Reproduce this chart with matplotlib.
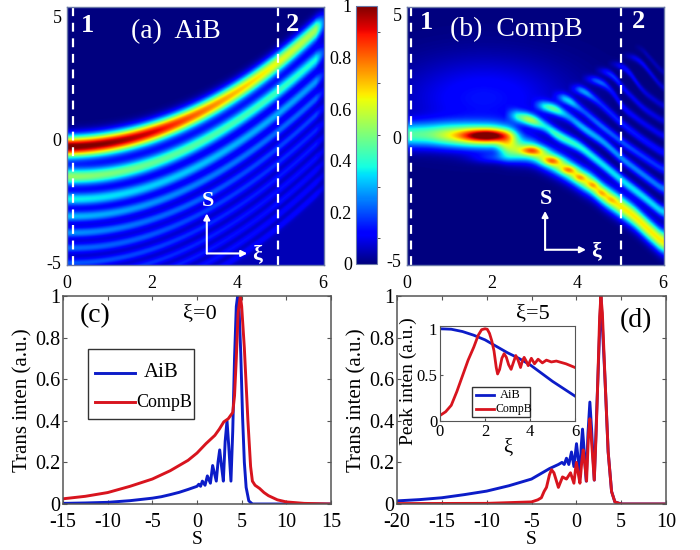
import numpy as np
import matplotlib
matplotlib.use("Agg")
import matplotlib.pyplot as plt
from matplotlib.patches import Rectangle

plt.rcParams['font.family'] = ['Liberation Serif', 'DejaVu Serif']
plt.rcParams['axes.unicode_minus'] = False

# panel (a): ridges
a_xi = [0, 1, 2, 3, 4, 5, 6]
a_s = [
    [-0.27, -0.14, 0.30, 1.05, 1.97, 3.20, 4.76],
    [-1.50, -1.38, -0.94, -0.24, 0.78, 2.05, 3.50],
    [-2.42, -2.30, -1.86, -1.16, -0.16, 1.15, 2.60],
    [-3.13, -3.00, -2.57, -1.87, -0.87, 0.44, 1.90],
    [-3.80, -3.66, -3.24, -2.55, -1.55, -0.25, 1.25],
    [-4.42, -4.28, -3.86, -3.15, -2.15, -0.85, 0.62],
    [-5.03, -4.88, -4.46, -3.75, -2.75, -1.45, 0.05],
    [-5.50, -5.40, -5.00, -4.30, -3.30, -2.00, -0.50],
    [-6.05, -5.90, -5.50, -4.80, -3.80, -2.50, -1.00],
    [-6.60, -6.45, -6.00, -5.30, -4.30, -3.00, -1.50],
    [-7.10, -6.95, -6.50, -5.80, -4.80, -3.50, -2.00],
]
a_amp = [
    [1.00, 0.97, 0.90, 0.78, 0.68, 0.60, 0.50],
    [0.48, 0.45, 0.42, 0.40, 0.38, 0.37, 0.32],
    [0.32, 0.30, 0.28, 0.27, 0.25, 0.24, 0.22],
    [0.26, 0.24, 0.22, 0.20, 0.19, 0.18, 0.17],
    [0.22, 0.20, 0.18, 0.17, 0.15, 0.14, 0.14],
    [0.18, 0.17, 0.16, 0.14, 0.13, 0.12, 0.11],
    [0.16, 0.15, 0.14, 0.12, 0.11, 0.10, 0.10],
    [0.13, 0.12, 0.12, 0.11, 0.10, 0.09, 0.09],
    [0.12, 0.11, 0.11, 0.10, 0.09, 0.09, 0.08],
    [0.10, 0.10, 0.10, 0.09, 0.09, 0.08, 0.08],
    [0.10, 0.10, 0.09, 0.09, 0.08, 0.08, 0.08],
]
a_width = [0.43, 0.34, 0.27, 0.23, 0.21, 0.2, 0.18, 0.17, 0.16, 0.16, 0.16]

# panel (b): ridges as (xi, s, amp) nodes
b_ridges = [
    ([0, 0.5, 1, 1.5, 2, 2.4, 2.7], [0.1, 0.1, 0.08, 0.05, 0.03, 0, -0.05],
     [0.42, 0.44, 0.55, 0.62, 0.62, 0.42, 0], 0.5),
    ([2.1, 2.3, 2.91, 3.40, 3.79, 4.06, 4.36, 4.57, 4.80, 5.08, 5.35, 5.63, 6.05],
     [-0.42, -0.47, -0.54, -0.96, -1.33, -1.64, -1.94, -2.28, -2.55, -2.89, -3.23, -3.70, -4.35],
     [0.0, 0.35, 0.55, 0.58, 0.6, 0.62, 0.64, 0.65, 0.66, 0.66, 0.66, 0.66, 0.66], 0.46),
    ([2.42, 2.91, 3.2, 3.52, 4.06, 4.61, 5.08, 5.55, 6.05],
     [0.91, 0.71, 0.50, 0.09, -0.38, -1.13, -1.80, -2.42, -3.12],
     [0.18, 0.55, 0.28, 0.42, 0.38, 0.35, 0.35, 0.35, 0.33], 0.26),
    ([3.05, 3.44, 3.75, 4.14, 4.61, 5.08, 5.55, 6.05],
     [1.32, 1.18, 0.91, 0.37, -0.18, -0.92, -1.53, -2.17],
     [0.18, 0.45, 0.22, 0.3, 0.28, 0.26, 0.25, 0.24], 0.23),
    ([3.52, 3.79, 4.06, 4.53, 5.08, 5.55, 6.05],
     [1.66, 1.52, 1.18, 0.50, -0.24, -0.79, -1.36],
     [0.12, 0.35, 0.17, 0.22, 0.2, 0.18, 0.17], 0.21),
    ([3.91, 4.14, 4.45, 5.08, 5.55, 6.05],
     [2.0, 1.9, 1.52, 0.5, -0.11, -0.68],
     [0.1, 0.3, 0.15, 0.15, 0.14, 0.13], 0.19),
    ([4.22, 4.53, 4.77, 5.08, 5.55, 6.05],
     [2.4, 2.27, 2.0, 1.18, 0.57, 0.0],
     [0.08, 0.25, 0.12, 0.12, 0.1, 0.1], 0.17),
    ([4.53, 4.84, 5.08, 5.55, 6.05],
     [2.74, 2.54, 2.0, 1.18, 0.61],
     [0.07, 0.2, 0.1, 0.1, 0.08], 0.16),
    ([4.84, 5.16, 5.55, 6.05],
     [3.0, 2.81, 1.86, 1.22],
     [0.06, 0.15, 0.08, 0.07], 0.15),
    ([5.16, 5.47, 6.05],
     [3.35, 3.15, 1.9],
     [0.05, 0.12, 0.06], 0.14),
    ([5.47, 6.05],
     [3.69, 2.55],
     [0.05, 0.05], 0.14),
]
# blobs: xi, s, amp, half width xi, half width s
b_blobs = [
    (1.875, 0.07, 0.45, 0.58, 0.25),
    (2.91, -0.54, 0.28, 0.27, 0.18),
    (3.40, -0.96, 0.22, 0.20, 0.17),
    (3.79, -1.33, 0.18, 0.17, 0.15),
    (4.06, -1.64, 0.13, 0.14, 0.15),
    (4.36, -1.94, 0.10, 0.13, 0.15),
    (4.57, -2.28, 0.08, 0.12, 0.15),
    (4.80, -2.55, 0.06, 0.12, 0.15),
    (1.80, 1.60, 0.14, 1.90, 1.60),
    (2.10, -0.85, 0.14, 0.55, 0.22),
]

# panel (c)
c_aib_s = [-15, -12.5, -10, -7.5, -5, -4, -3, -2, -1, 0, 0.2, 0.4, 0.6, 0.9, 1.16, 1.5, 1.75, 2.16, 2.35, 2.54, 2.75, 2.95, 3.15, 3.36, 3.55,
           3.8, 4.0, 4.2, 4.4, 4.55, 4.7, 4.9, 5.1, 5.3, 5.5, 5.8, 6.2, 10, 15]
c_aib_i = [0.003, 0.005, 0.008, 0.016, 0.028, 0.035, 0.045, 0.056, 0.07, 0.085, 0.095, 0.085, 0.11, 0.09, 0.135, 0.10, 0.185, 0.11, 0.20, 0.26, 0.18, 0.11, 0.30, 0.40, 0.28,
           0.11, 0.35, 0.70, 0.95, 1.0, 0.95, 0.72, 0.42, 0.20, 0.08, 0.015, 0, 0, 0]
c_comp_s = [-15, -12.5, -10, -7.5, -5, -4, -3, -2, -1, 0, 1, 2, 2.5, 3, 3.5, 4, 4.2, 4.4, 4.6, 4.85, 5, 5.3, 5.7, 6, 6.2, 6.5, 7, 7.5, 8, 9, 10, 12, 15]
c_comp_i = [0.025, 0.037, 0.055, 0.085, 0.12, 0.14, 0.16, 0.185, 0.21, 0.245, 0.29, 0.33, 0.36, 0.395, 0.41, 0.44, 0.52, 0.70, 0.92, 1.0, 0.95, 0.75, 0.40, 0.18, 0.11, 0.09, 0.075, 0.055, 0.04, 0.02, 0.01, 0.003, 0]

# panel (d)
d_aib_s = [-20, -17.5, -15, -12.5, -10, -7.5, -5, -4, -3, -2, -1.6, -1.35, -1.1, -0.84, -0.54, -0.27, 0.02, 0.2, 0.4, 0.55, 0.69, 0.85, 1.1, 1.3, 1.51, 1.7, 2.0, 2.4, 2.74, 3.2, 3.55, 3.93, 4.3, 5, 10]
d_aib_i = [0.015, 0.021, 0.03, 0.045, 0.062, 0.088, 0.12, 0.145, 0.17, 0.19, 0.20, 0.19, 0.22, 0.19, 0.25, 0.18, 0.29, 0.22, 0.13, 0.28, 0.36, 0.27, 0.11, 0.34, 0.49, 0.36, 0.115, 0.60, 1.0, 0.60, 0.25, 0.06, 0.01, 0, 0]
d_comp_s = [-20, -10, -5, -4.3, -3.9, -3.6, -3.33, -3.0, -2.77, -2.5, -2, -1.54, -1.1, -0.65, -0.27, 0, 0.2, 0.4, 0.6, 0.77, 0.95, 1.14, 1.35, 1.51, 1.7, 2.0, 2.2, 2.4, 2.6, 2.74, 2.9, 3.2, 3.55, 3.93, 4.3, 5, 10]
d_comp_i = [0.002, 0.003, 0.01, 0.02, 0.03, 0.06, 0.08, 0.14, 0.165, 0.15, 0.08, 0.13, 0.12, 0.15, 0.10, 0.20, 0.15, 0.10, 0.20, 0.26, 0.19, 0.11, 0.33, 0.41, 0.30, 0.115, 0.33, 0.60, 0.90, 1.0, 0.92, 0.60, 0.25, 0.06, 0.01, 0, 0]

# inset of (d)
peak_aib_xi = [0, 0.5, 1, 1.5, 2, 2.5, 3, 3.5, 4, 4.5, 5, 5.5, 6]
peak_aib_i = [1.0, 0.995, 0.97, 0.93, 0.88, 0.81, 0.74, 0.68, 0.61, 0.52, 0.43, 0.35, 0.27]
peak_comp_xi = [0, 0.25, 0.5, 0.75, 1, 1.25, 1.5, 1.7, 1.85, 2, 2.1, 2.2, 2.3, 2.4, 2.5, 2.56, 2.65, 2.75, 2.85, 2.95, 3.05, 3.16, 3.27, 3.37, 3.47, 3.58, 3.66, 3.74, 3.83, 3.92, 4.0, 4.06, 4.2, 4.36, 4.55, 4.73, 4.95, 5.17, 5.6, 6]
peak_comp_i = [0.06, 0.10, 0.17, 0.32, 0.49, 0.66, 0.80, 0.93, 0.99, 1.0, 0.995, 0.95, 0.87, 0.76, 0.58, 0.51, 0.56, 0.68, 0.73, 0.69, 0.61, 0.56, 0.64, 0.71, 0.66, 0.58, 0.65, 0.69, 0.65, 0.60, 0.65, 0.68, 0.62, 0.67, 0.63, 0.66, 0.64, 0.65, 0.62, 0.58]

BLUE = '#0c1cc8'
RED = '#d8141e'
FRAME = '#555555'


def smooth_interp(x, nx, ny, left=None, right=None):
    y = np.interp(x, nx, ny, left=left, right=right)
    n = 25
    pad = np.r_[np.full(n, y[0]), y, np.full(n, y[-1])]
    return np.convolve(pad, np.ones(n) / n, mode='same')[n:-n]


def add_ridge(img, xi, S, nx, ns, namp, w, fit=False):
    # spread one ridge across the s axis
    if fit:
        pos = np.polyval(np.polyfit(nx, ns, 3), xi)
    else:
        pos = smooth_interp(xi, nx, ns)
    amp = smooth_interp(xi, nx, namp, left=0, right=0)
    img += amp * np.exp(-((S - pos) / w) ** 2)


def px_axes(l, t, r, b):
    return fig.add_axes([l / 700, 1 - b / 550, (r - l) / 700, (b - t) / 550])


def heat_panel(ax, img, ylim, label, labx, dash1, dash2, num1x, num2x, arrow):
    ax.imshow(img, origin='lower', extent=[0, 6.03, -6, 6], cmap='jet', vmin=0, vmax=1,
              aspect='auto', interpolation='bilinear')
    ax.set_xlim(0, 6.03)
    ax.set_ylim(*ylim)
    ax.set_xticks([0, 2, 4, 6])
    ax.set_yticks([-5, 0, 5])
    ax.tick_params(length=0, labelsize=13, pad=4)
    ax.tick_params(axis='x', pad=7)
    for sp in ax.spines.values():
        sp.set_color('#6a78a8')
        sp.set_linewidth(1)
    for d in (dash1, dash2):
        ax.axvline(d, color='white', lw=1.6, dashes=(4, 3))
    ax.text(num1x, 4.65, '1', color='white', fontsize=19, fontweight='bold', ha='center', va='center')
    ax.text(num2x, 4.7, '2', color='white', fontsize=19, fontweight='bold', ha='center', va='center')
    ax.text(labx, 4.4, label, color='white', fontsize=20, ha='left', va='center')
    x0, y0, x1, y1 = arrow
    for tip in ((x0, y1), (x1, y0)):
        ax.annotate('', xy=tip, xytext=(x0, y0),
                    arrowprops=dict(arrowstyle='-|>,head_width=0.18,head_length=0.35', color='white', lw=1.5,
                                    shrinkA=0, shrinkB=0))
    ax.text(x0 + 0.03, y1 + 0.5, 'S', color='white', fontsize=16, fontweight='bold', ha='center', va='center')
    ax.text(x1 + 0.23, y0 - 0.05, 'ξ', color='white', fontsize=16, fontweight='bold', ha='center', va='center')


def line_axes(ax, xlim, xticks):
    ax.set_xlim(*xlim)
    ax.set_ylim(0, 1)
    ax.set_xticks(xticks)
    ax.set_yticks([0, 0.2, 0.4, 0.6, 0.8, 1])
    ax.set_yticklabels(['0', '0.2', '0.4', '0.6', '0.8', '1'])
    ax.tick_params(direction='in', length=3, top=True, right=True, labelsize=14.5, pad=2, color=FRAME)
    ax.tick_params(axis='x', pad=6.5)
    ax.set_xlabel('S', fontsize=14, labelpad=-0.5)
    ax.set_ylabel('Trans inten (a.u.)', fontsize=15)
    ax.yaxis.set_label_coords(-0.112, 0.5)
    for sp in ax.spines.values():
        sp.set_color(FRAME)
        sp.set_linewidth(1.1)


def manual_legend(ax, box, rows, lw):
    # box and rows in axes fractions
    x0, y0, x1, y1 = box
    ax.add_patch(Rectangle((x0, y0), x1 - x0, y1 - y0, transform=ax.transAxes, facecolor='white',
                           edgecolor='#333333', lw=1, zorder=5))
    for hx0, hx1, hy, color, tx, label, size in rows:
        ax.plot([hx0, hx1], [hy, hy], transform=ax.transAxes, color=color, lw=lw, zorder=6)
        ax.text(tx, hy, label, transform=ax.transAxes, fontsize=size, ha='left', va='center', zorder=6)


fig = plt.figure(figsize=(7, 5.5), dpi=100)

# heat maps
xi = np.linspace(0, 6.03, 500)
s_axis = np.linspace(-6, 6, 500)
S = s_axis[:, None]

img_a = np.zeros((500, 500))
for ns, namp, w in zip(a_s, a_amp, a_width):
    add_ridge(img_a, xi, S, a_xi, ns, namp, w, fit=True)
top_edge = np.polyval(np.polyfit(a_xi, a_s[0], 3), xi)
img_a += 0.05 * 0.5 * (1 - np.tanh((S - top_edge) / 0.3))

img_b = np.zeros((500, 500))
for nx, ns, namp, w in b_ridges:
    add_ridge(img_b, xi, S, nx, ns, namp, w)
X = xi[None, :]
for bx, bs, amp, sx, ss in b_blobs:
    img_b += amp * np.exp(-((X - bx) / sx) ** 2 - ((S - bs) / ss) ** 2)

ax_a = px_axes(67, 7, 324, 265)
heat_panel(ax_a, img_a, (-5.1, 5.4), '(a)  AiB', 1.5, 0.13, 4.96, 0.49, 5.28, (3.28, -4.63, 4.23, -3.0))

ax_b = px_axes(407, 7, 664, 265)
heat_panel(ax_b, img_b, (-5.2, 5.3), '(b)  CompB', 1.0, 0.1, 5.03, 0.45, 5.42, (3.24, -4.58, 4.2, -3.0))

# colour bar with labels on the left
cax = px_axes(356, 6, 377, 264)
cb = fig.colorbar(ax_a.images[0], cax=cax, ticks=[0, 0.2, 0.4, 0.6, 0.8, 1])
cb.ax.set_yticklabels(['0', '0.2', '0.4', '0.6', '0.8', '1'])
cax.set_yticks(np.arange(0, 1.01, 0.1), minor=True)
cax.yaxis.tick_left()
cax.tick_params(which='major', length=0, labelsize=13, pad=3)
cax.tick_params(which='minor', left=False, right=True, length=2, color='#333333')
cb.outline.set_edgecolor('#6a78a8')
cb.outline.set_linewidth(0.8)

# panel (c)
ax_c = px_axes(63, 296, 331, 504)
line_axes(ax_c, (-15, 15), [-15, -10, -5, 0, 5, 10, 15])
ax_c.plot(c_aib_s, c_aib_i, color=BLUE, lw=2.1, solid_joinstyle='round')
ax_c.plot(c_comp_s, c_comp_i, color=RED, lw=2.1, solid_joinstyle='round')
manual_legend(ax_c, (0.093, 0.41, 0.489, 0.745),
              [(0.12, 0.27, 0.63, BLUE, 0.30, 'AiB', 15),
               (0.12, 0.27, 0.49, RED, 0.275, 'CompB', 13)], 2.1)
ax_c.text(0.12, 0.905, '(c)', transform=ax_c.transAxes, fontsize=20, ha='center', va='center')
ax_c.text(0.51, 0.915, 'ξ=0', transform=ax_c.transAxes, fontsize=16, ha='center', va='center')

# panel (d)
ax_d = px_axes(397, 296, 666, 504)
line_axes(ax_d, (-20, 10), [-20, -15, -10, -5, 0, 5, 10])
ax_d.plot(d_aib_s, d_aib_i, color=BLUE, lw=2.1, solid_joinstyle='round')
ax_d.plot(d_comp_s, d_comp_i, color=RED, lw=2.1, solid_joinstyle='round')
ax_d.text(0.89, 0.88, '(d)', transform=ax_d.transAxes, fontsize=20, ha='center', va='center')
ax_d.text(0.505, 0.915, 'ξ=5', transform=ax_d.transAxes, fontsize=16, ha='center', va='center')

# inset
ax_i = px_axes(440, 326, 575, 421)
ax_i.plot(peak_aib_xi, peak_aib_i, color=BLUE, lw=2, solid_joinstyle='round')
ax_i.plot(peak_comp_xi, peak_comp_i, color=RED, lw=2, solid_joinstyle='round')
ax_i.set_xlim(0, 6)
ax_i.set_ylim(0, 1.03)
ax_i.set_xticks([0, 2, 4, 6])
ax_i.set_yticks([0, 0.5, 1])
ax_i.set_yticklabels(['0', '0.5', '1'])
ax_i.tick_params(direction='in', length=2, labelsize=12, pad=2, color=FRAME)
ax_i.set_xlabel('ξ', fontsize=15, labelpad=-1)
ax_i.set_ylabel('Peak inten (a.u.)', fontsize=14)
ax_i.yaxis.set_label_coords(-0.17, 0.42)
for sp in ax_i.spines.values():
    sp.set_color(FRAME)
manual_legend(ax_i, (0.237, 0.04, 0.667, 0.36),
              [(0.27, 0.40, 0.27, BLUE, 0.44, 'AiB', 9),
               (0.27, 0.40, 0.13, RED, 0.41, 'CompB', 8.5)], 2)

fig.savefig('out.png', dpi=100)
plt.close(fig)
